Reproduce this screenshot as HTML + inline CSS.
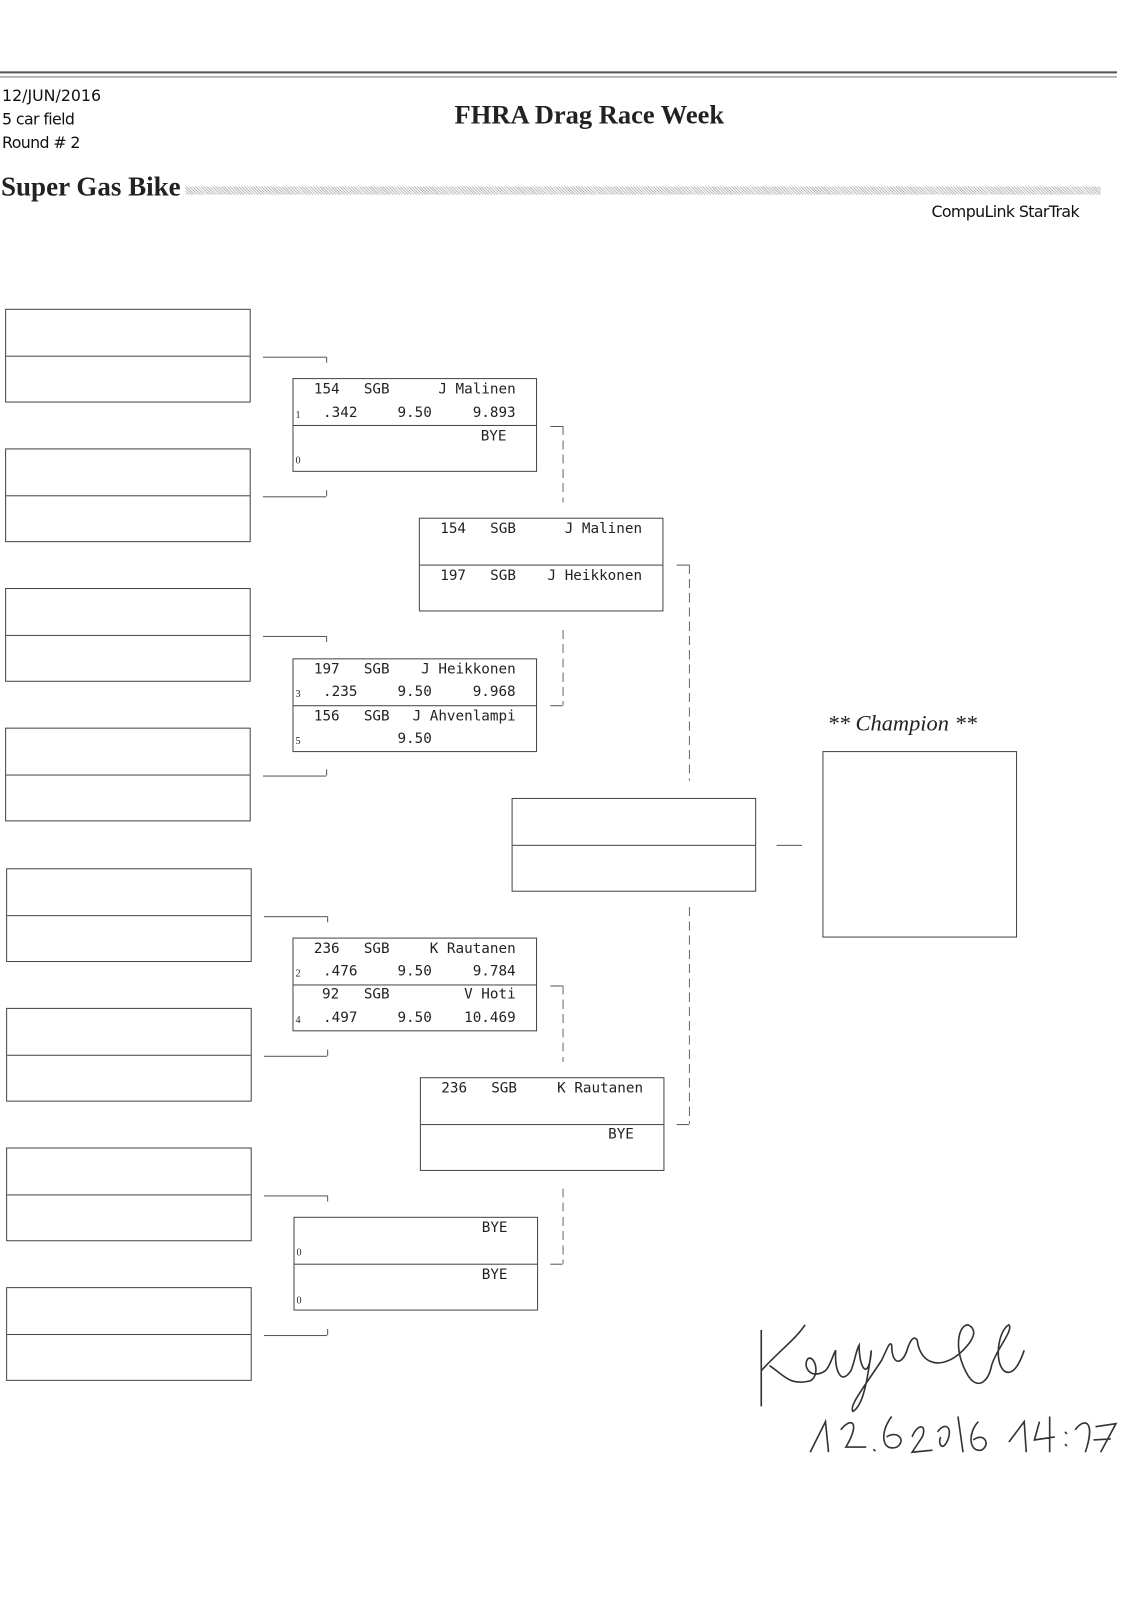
<!DOCTYPE html>
<html><head><meta charset="utf-8"><style>
body{margin:0;background:#fff;width:1121px;height:1600px;position:relative;overflow:hidden;font-family:"DejaVu Sans Mono","Liberation Mono",monospace;color:#222}
#w{position:absolute;left:0;top:0;width:1100px;height:1570px;transform:scale(1.0191);transform-origin:0 0}
.b{position:absolute;border:1.3px solid #444;box-sizing:border-box}
.d{position:absolute;border-top:1.3px solid #444;left:0;right:0}
.t{position:absolute;font-size:14px;line-height:16px;white-space:pre;top:2px}
.r{transform:translateX(-100%)}
.s{position:absolute;font-family:"Liberation Serif",serif;font-size:10px;line-height:10px}
.h{position:absolute;border-top:1.2px solid #555}
.v{position:absolute;border-left:1.2px solid #555}
.dv{position:absolute;width:1.2px;background:repeating-linear-gradient(#666 0 9px,transparent 9px 14px)}
.hdr{position:absolute;font-family:"DejaVu Sans","Liberation Sans",sans-serif;font-size:15.5px;color:#111}
</style></head><body><div id="w">
<div class="h" style="left:0;top:70px;width:1096px;border-top:2px solid #555"></div>
<div class="h" style="left:0;top:75px;width:1096px;border-top:1px solid #777"></div>
<div class="hdr" style="left:2px;top:85px">12/JUN/2016</div>
<div class="hdr" style="left:2px;top:108px;letter-spacing:-0.6px">5 car field</div>
<div class="hdr" style="left:2px;top:131px;letter-spacing:-0.6px">Round # 2</div>
<div style="position:absolute;left:446px;top:98px;font-family:'Liberation Serif',serif;font-weight:bold;font-size:26px">FHRA Drag Race Week</div>
<div style="position:absolute;left:1px;top:168px;font-family:'Liberation Serif',serif;font-weight:bold;font-size:26.5px">Super Gas Bike</div>
<div style="position:absolute;left:182px;top:183px;width:898px;height:8px;background:repeating-linear-gradient(45deg,#bbb 0 1px,#fff 1px 2px)"></div>
<div class="hdr" style="left:914px;top:199px;letter-spacing:-0.6px">CompuLink StarTrak</div>

<div class="b" style="left:5px;top:303px;width:241px;height:92px"><div class="d" style="top:45px"></div></div>
<div class="b" style="left:5px;top:440px;width:241px;height:92px"><div class="d" style="top:45px"></div></div>
<div class="b" style="left:5px;top:577px;width:241px;height:92px"><div class="d" style="top:45px"></div></div>
<div class="b" style="left:5px;top:714px;width:241px;height:92px"><div class="d" style="top:45px"></div></div>
<div class="b" style="left:6px;top:852px;width:241px;height:92px"><div class="d" style="top:45px"></div></div>
<div class="b" style="left:6px;top:989px;width:241px;height:92px"><div class="d" style="top:45px"></div></div>
<div class="b" style="left:6px;top:1126px;width:241px;height:92px"><div class="d" style="top:45px"></div></div>
<div class="b" style="left:6px;top:1263px;width:241px;height:92px"><div class="d" style="top:45px"></div></div>

<div class="h" style="left:258px;top:350px;width:62px"></div><div class="v" style="left:320px;top:350px;height:6px"></div>
<div class="h" style="left:258px;top:487px;width:62px"></div><div class="v" style="left:320px;top:481px;height:6px"></div>
<div class="h" style="left:258px;top:624px;width:62px"></div><div class="v" style="left:320px;top:624px;height:6px"></div>
<div class="h" style="left:258px;top:761px;width:62px"></div><div class="v" style="left:320px;top:755px;height:6px"></div>
<div class="h" style="left:259px;top:899px;width:62px"></div><div class="v" style="left:321px;top:899px;height:6px"></div>
<div class="h" style="left:259px;top:1036px;width:62px"></div><div class="v" style="left:321px;top:1030px;height:6px"></div>
<div class="h" style="left:259px;top:1173px;width:62px"></div><div class="v" style="left:321px;top:1173px;height:6px"></div>
<div class="h" style="left:259px;top:1310px;width:62px"></div><div class="v" style="left:321px;top:1304px;height:6px"></div>

<div class="b" style="left:287px;top:371px;width:240px;height:92px"><div class="d" style="top:45px"></div></div>
<div class="t" style="left:308px;top:374px">154</div><div class="t" style="left:357px;top:374px">SGB</div><div class="t r" style="left:506px;top:374px">J Malinen</div>
<div class="s" style="left:290px;top:403px">1</div><div class="t" style="left:317px;top:397px">.342</div><div class="t" style="left:390px;top:397px">9.50</div><div class="t r" style="left:506px;top:397px">9.893</div>
<div class="t r" style="left:497px;top:420px">BYE</div><div class="s" style="left:290px;top:448px">0</div>

<div class="b" style="left:287px;top:646px;width:240px;height:92px"><div class="d" style="top:45px"></div></div>
<div class="t" style="left:308px;top:649px">197</div><div class="t" style="left:357px;top:649px">SGB</div><div class="t r" style="left:506px;top:649px">J Heikkonen</div>
<div class="s" style="left:290px;top:677px">3</div><div class="t" style="left:317px;top:671px">.235</div><div class="t" style="left:390px;top:671px">9.50</div><div class="t r" style="left:506px;top:671px">9.968</div>
<div class="t" style="left:308px;top:695px">156</div><div class="t" style="left:357px;top:695px">SGB</div><div class="t r" style="left:506px;top:695px">J Ahvenlampi</div>
<div class="s" style="left:290px;top:723px">5</div><div class="t" style="left:390px;top:717px">9.50</div>

<div class="b" style="left:287px;top:920px;width:240px;height:92px"><div class="d" style="top:45px"></div></div>
<div class="t" style="left:308px;top:923px">236</div><div class="t" style="left:357px;top:923px">SGB</div><div class="t r" style="left:506px;top:923px">K Rautanen</div>
<div class="s" style="left:290px;top:951px">2</div><div class="t" style="left:317px;top:945px">.476</div><div class="t" style="left:390px;top:945px">9.50</div><div class="t r" style="left:506px;top:945px">9.784</div>
<div class="t" style="left:316px;top:968px">92</div><div class="t" style="left:357px;top:968px">SGB</div><div class="t r" style="left:506px;top:968px">V Hoti</div>
<div class="s" style="left:290px;top:997px">4</div><div class="t" style="left:317px;top:991px">.497</div><div class="t" style="left:390px;top:991px">9.50</div><div class="t r" style="left:506px;top:991px">10.469</div>

<div class="b" style="left:288px;top:1194px;width:240px;height:92px"><div class="d" style="top:45px"></div></div>
<div class="t r" style="left:498px;top:1197px">BYE</div><div class="s" style="left:291px;top:1225px">0</div>
<div class="t r" style="left:498px;top:1243px">BYE</div><div class="s" style="left:291px;top:1272px">0</div>

<div class="h" style="left:540px;top:418px;width:12px"></div><div class="dv" style="left:552px;top:418px;height:75px"></div>
<div class="dv" style="left:552px;top:618px;height:74px"></div><div class="h" style="left:540px;top:692px;width:12px"></div>
<div class="h" style="left:540px;top:967px;width:12px"></div><div class="dv" style="left:552px;top:967px;height:75px"></div>
<div class="dv" style="left:552px;top:1166px;height:74px"></div><div class="h" style="left:540px;top:1240px;width:12px"></div>

<div class="b" style="left:411px;top:508px;width:240px;height:92px"><div class="d" style="top:45px"></div></div>
<div class="t" style="left:432px;top:511px">154</div><div class="t" style="left:481px;top:511px">SGB</div><div class="t r" style="left:630px;top:511px">J Malinen</div>
<div class="t" style="left:432px;top:557px">197</div><div class="t" style="left:481px;top:557px">SGB</div><div class="t r" style="left:630px;top:557px">J Heikkonen</div>

<div class="b" style="left:412px;top:1057px;width:240px;height:92px"><div class="d" style="top:45px"></div></div>
<div class="t" style="left:433px;top:1060px">236</div><div class="t" style="left:482px;top:1060px">SGB</div><div class="t r" style="left:631px;top:1060px">K Rautanen</div>
<div class="t r" style="left:622px;top:1105px">BYE</div>

<div class="h" style="left:664px;top:554px;width:12px"></div><div class="dv" style="left:676px;top:554px;height:212px"></div>
<div class="dv" style="left:676px;top:890px;height:213px"></div><div class="h" style="left:664px;top:1103px;width:12px"></div>

<div class="b" style="left:502px;top:783px;width:240px;height:92px"><div class="d" style="top:45px"></div></div>
<div class="h" style="left:762px;top:829px;width:25px"></div>

<div style="position:absolute;left:812px;top:697px;font-family:'Liberation Serif',serif;font-style:italic;font-size:22px">** Champion **</div>
<div class="b" style="left:807px;top:737px;width:191px;height:183px"></div>

<svg style="position:absolute;left:735px;top:1285px" width="370" height="150" viewBox="0 0 370 150">
<g fill="none" stroke="#333" stroke-width="1.6">
<path d="M12 20 L12 95 M12 60 C30 40 45 30 55 15 M20 55 C35 65 40 75 60 70 C70 65 65 45 58 48 C52 55 60 70 75 60 C80 55 82 45 85 40 C84 60 90 75 100 60 C104 50 105 40 108 35 C108 60 118 70 120 40 C115 80 110 95 102 100 C98 95 110 80 130 50 C135 40 138 30 140 35 C140 55 150 55 155 40 C158 30 162 25 165 30 C168 55 190 60 210 40 C220 30 225 20 215 15 C205 15 200 40 215 65 C225 80 235 70 238 55 C242 40 260 20 255 15 C245 20 240 50 250 60 C258 66 265 55 270 40"/>
<path d="M60 140 L75 110 L78 140 M90 118 C100 105 110 110 95 135 L115 135 M122 137 L124 139 M140 105 C128 120 130 140 145 135 C155 128 145 118 135 125 M160 125 C165 112 175 112 170 125 L160 140 L180 138 M185 120 C192 110 200 115 195 128 C190 140 185 132 188 125 M205 105 L210 140 M225 110 C215 120 215 140 228 138 C238 132 230 120 220 128 M255 130 L270 110 L272 140 M285 110 L280 128 L300 125 M295 105 L295 140 M310 120 L312 122 M310 132 L312 134 M320 118 C330 105 340 110 330 140 M340 115 L360 112 L345 140 M338 128 L355 127"/>
</g></svg>
</div></body></html>
